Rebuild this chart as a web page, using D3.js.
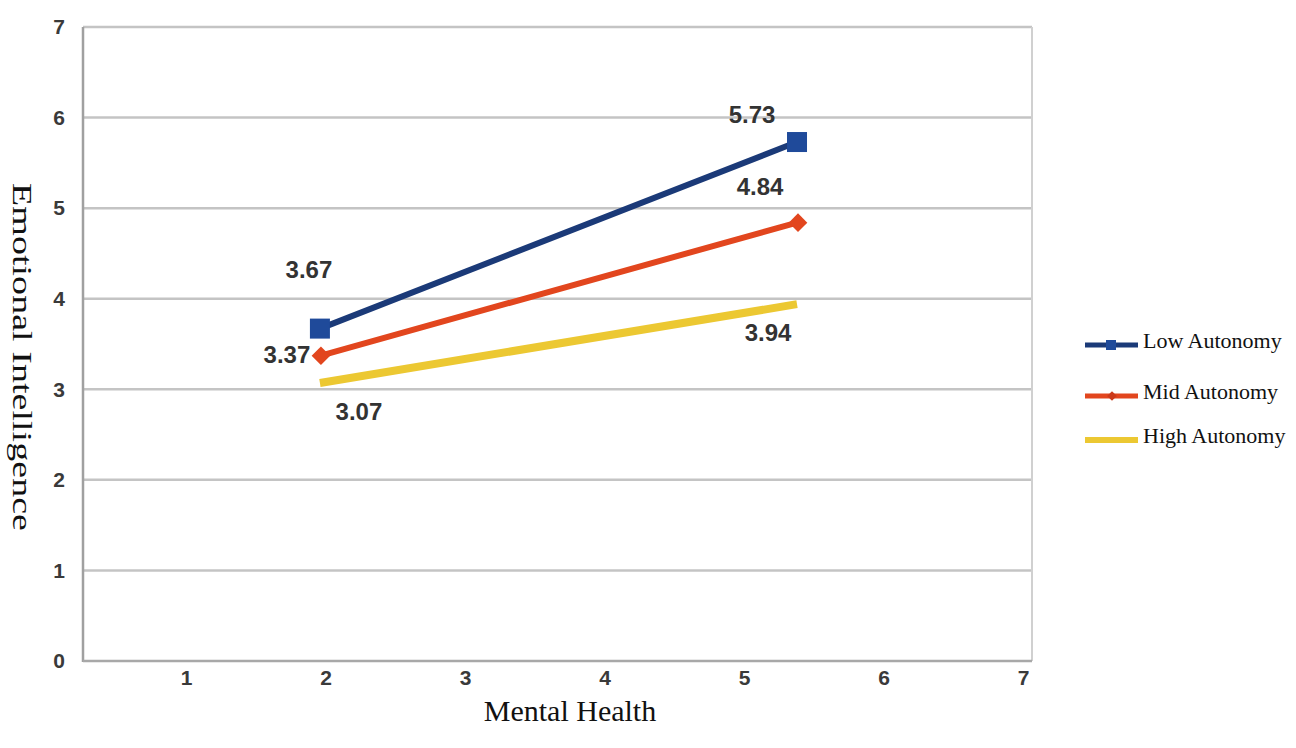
<!DOCTYPE html>
<html><head><meta charset="utf-8">
<script src="https://cdn.jsdelivr.net/npm/d3@7"></script>
<style>body{margin:0;background:#fff}svg{display:block}</style>
</head><body>
<svg id="chart" width="1296" height="748"></svg>
<script>
const seriesNames = ["Low Autonomy", "Mid Autonomy", "High Autonomy"];
const xValues = [1.96, 5.38];
const lowValues = [3.67, 5.73];
const midValues = [3.37, 4.84];
const highValues = [3.07, 3.94];
const xTicks = [1, 2, 3, 4, 5, 6, 7];
const yTicks = [0, 1, 2, 3, 4, 5, 6, 7];

const svg = d3.select("#chart");
const x = d3.scaleLinear().domain([1, 7]).range([186, 1023]);
const y = d3.scaleLinear().domain([0, 7]).range([661, 27]);
const left = 83, right = 1032;

const colors = ["#1b3a78", "#e2461e", "#ecc832"];
const markerColors = ["#1f4a9a", "#e2461e", null];
const widths = [6, 6, 8];
const valueSets = [lowValues, midValues, highValues];

// gridlines
svg.append("g").selectAll("line").data(yTicks.filter(d => d > 0)).join("line")
  .attr("x1", left).attr("x2", right)
  .attr("y1", d => y(d)).attr("y2", d => y(d))
  .attr("stroke", "#c4c4c4").attr("stroke-width", 2.5);
// right border
svg.append("line").attr("x1", right).attr("x2", right).attr("y1", y(7)).attr("y2", y(0))
  .attr("stroke", "#d0d0d0").attr("stroke-width", 2);

// axes
const yAxis = svg.append("g").attr("transform", `translate(${left},0)`)
  .call(d3.axisLeft(y).tickValues(yTicks).tickFormat(d3.format("d")).tickSize(0).tickPadding(18));
const xAxis = svg.append("g").attr("transform", `translate(0,${y(0)})`)
  .call(d3.axisBottom(x).tickValues(xTicks).tickFormat(d3.format("d")).tickSize(0).tickPadding(9));
xAxis.select(".domain").remove();
yAxis.select(".domain").remove();
svg.append("line").attr("x1", left).attr("x2", left).attr("y1", y(7)).attr("y2", y(0) + 1)
  .attr("stroke", "#a0a0a0").attr("stroke-width", 2.5);
svg.append("line").attr("x1", left).attr("x2", right).attr("y1", y(0)).attr("y2", y(0))
  .attr("stroke", "#a8a8a8").attr("stroke-width", 2.5);
[yAxis, xAxis].forEach(a => a.selectAll("text")
  .attr("font-family", "'Liberation Sans', Arial, sans-serif")
  .attr("font-size", 21).attr("font-weight", "bold").attr("fill", "#3a3a3a"));

// lines
const line = d3.line().x((d, i) => x(xValues[i])).y(d => y(d));
valueSets.forEach((vals, k) => {
  svg.append("path").datum(vals).attr("d", line)
    .attr("fill", "none").attr("stroke", colors[k]).attr("stroke-width", widths[k])
    .attr("stroke-linecap", k === 2 ? "butt" : "round");
});
// markers
lowValues.forEach((v, i) => {
  svg.append("rect").attr("x", x(xValues[i]) - 10).attr("y", y(v) - 10)
    .attr("width", 20).attr("height", 20).attr("fill", markerColors[0]);
});
midValues.forEach((v, i) => {
  svg.append("path").attr("d", d3.symbol(d3.symbolDiamond2, 220)())
    .attr("transform", `translate(${x(xValues[i]) + 1},${y(v)})`).attr("fill", markerColors[1]);
});

// value labels
const labelOffsets = [
  [[-11, -57], [-45, -25]],
  [[-33, 1], [-37, -34]],
  [[39, 31], [-29, 31]]
];
valueSets.forEach((vals, k) => {
  vals.forEach((v, i) => {
    svg.append("text").attr("x", x(xValues[i]) + labelOffsets[k][i][0])
      .attr("y", y(v) + labelOffsets[k][i][1])
      .attr("text-anchor", "middle").attr("dominant-baseline", "middle")
      .attr("font-family", "'Liberation Sans', Arial, sans-serif")
      .attr("font-size", 24).attr("font-weight", "bold").attr("fill", "#333")
      .text(v.toFixed(2));
  });
});

// axis titles
svg.append("text").attr("x", 570).attr("y", 721).attr("text-anchor", "middle")
  .attr("font-family", "'Liberation Serif', 'Times New Roman', serif").attr("font-size", 30)
  .attr("fill", "#111").text("Mental Health");
svg.append("text").attr("transform", "translate(13,357) rotate(90)").attr("text-anchor", "middle")
  .attr("font-family", "'Liberation Serif', 'Times New Roman', serif").attr("font-size", 28)
  .attr("textLength", 348).attr("lengthAdjust", "spacingAndGlyphs")
  .attr("fill", "#111").text("Emotional Intelligence");

// legend
const legendY = [345, 396, 440];
seriesNames.forEach((name, k) => {
  const g = svg.append("g").attr("transform", `translate(0,${legendY[k]})`);
  g.append("line").attr("x1", 1085).attr("x2", 1138).attr("y1", 0).attr("y2", 0)
    .attr("stroke", colors[k]).attr("stroke-width", k === 2 ? 6 : 5);
  if (k === 0) g.append("rect").attr("x", 1106).attr("y", -5).attr("width", 10).attr("height", 10).attr("fill", markerColors[0]);
  if (k === 1) g.append("path").attr("d", d3.symbol(d3.symbolDiamond2, 60)()).attr("transform", "translate(1112,0)").attr("fill", "#cc3a1a");
  g.append("text").attr("x", 1143).attr("y", -2).attr("dominant-baseline", "middle")
    .attr("font-family", "'Liberation Serif', 'Times New Roman', serif").attr("font-size", 22)
    .attr("fill", "#111").text(name);
});
</script>
</body></html>
